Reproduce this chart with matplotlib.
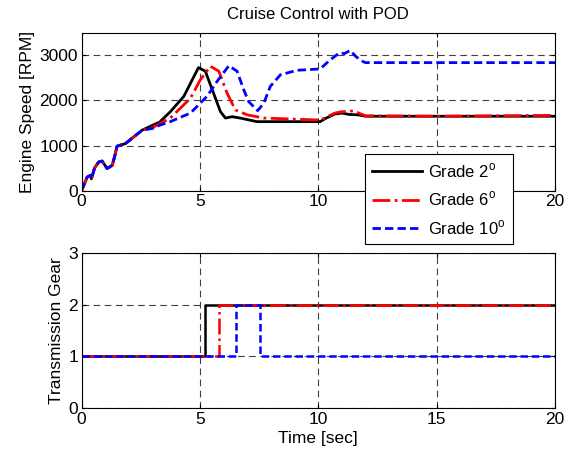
import numpy as np
import matplotlib
matplotlib.use('Agg')
import matplotlib.pyplot as plt

plt.rcParams['font.family'] = ['Liberation Sans', 'DejaVu Sans']
plt.rcParams['mathtext.fontset'] = 'custom'
plt.rcParams['mathtext.rm'] = 'Liberation Sans'

# engine speed traces [RPM] vs time [sec]
t_start = [0, 0.24, 0.38, 0.42, 0.55, 0.73, 0.87, 1.08, 1.3, 1.41, 1.5, 1.86, 2.56]
v_start = [0, 300, 335, 260, 500, 635, 655, 490, 560, 780, 985, 1045, 1340]

t_g2 = [3.0, 3.3, 3.75, 4.32, 4.94, 5.23, 5.57, 5.87, 6.08, 6.36, 6.7, 7.41,
        10.08, 10.3, 10.7, 11.0, 11.3, 11.7, 12.0, 20.0]
v_g2 = [1450, 1520, 1750, 2090, 2730, 2650, 2170, 1750, 1610, 1640, 1610, 1530,
        1530, 1600, 1700, 1720, 1690, 1680, 1650, 1650]

t_g6 = [3.0, 3.3, 3.75, 4.6, 5.02, 5.44, 5.8, 6.15, 6.5, 7.0, 7.7,
        10.08, 10.3, 10.7, 11.0, 11.5, 11.8, 12.0, 15.0, 20.0]
v_g6 = [1400, 1480, 1610, 2050, 2460, 2760, 2650, 2160, 1790, 1680, 1610,
        1565, 1620, 1720, 1750, 1770, 1700, 1660, 1650, 1670]

t_g10 = [3.0, 3.3, 3.75, 4.6, 5.3, 5.72, 6.22, 6.57, 6.85, 7.06, 7.44, 7.7, 7.97,
         8.4, 9.1, 10.08, 10.5, 10.9, 11.1, 11.35, 11.6, 11.9, 12.0, 20.0]
v_g10 = [1380, 1450, 1530, 1720, 2090, 2420, 2770, 2650, 2240, 1975, 1775, 1940, 2310,
         2570, 2670, 2700, 2900, 3060, 3040, 3110, 2970, 2860, 2840, 2840]

# gear shift points
gear_t2 = [0, 5.23, 20]
gear_2 = [1, 2, 2]
gear_t6 = [0, 5.82, 20]
gear_6 = [1, 2, 2]
gear_t10 = [0, 6.54, 7.52, 20]
gear_10 = [1, 2, 1, 1]

labels = ['Grade 2$^\\mathrm{o}$', 'Grade 6$^\\mathrm{o}$', 'Grade 10$^\\mathrm{o}$']
xticks = [0, 5, 10, 15, 20]

fig = plt.figure(figsize=(5.74, 4.57), dpi=100)
ax1 = fig.add_axes([0.142, 0.583, 0.825, 0.345])
ax2 = fig.add_axes([0.142, 0.107, 0.825, 0.339])

ax1.plot(t_start + t_g2, v_start + v_g2, color='k', lw=2, ls='-', label=labels[0])
ax1.plot(t_start + t_g6, v_start + v_g6, color='r', lw=2, ls='-.', label=labels[1])
ax1.plot(t_start + t_g10, v_start + v_g10, color='b', lw=2, ls='--', dashes=(3, 1.5), label=labels[2])

ax2.plot(gear_t2, gear_2, color='k', lw=1.8, drawstyle='steps-post')
ax2.plot(gear_t6, gear_6, color='r', lw=1.8, ls='-.', drawstyle='steps-post')
ax2.plot(gear_t10, gear_10, color='b', lw=1.8, ls='--', dashes=(3, 1.5), drawstyle='steps-post')

for ax in (ax1, ax2):
    ax.set_xlim(0, 20)
    ax.set_xticks(xticks)
    ax.grid(True, color='0.25', ls='--', lw=0.8, dashes=(6, 4))
    ax.tick_params(direction='in', top=True, right=True, labelsize=12.5, length=3, pad=2.5)
    for s in ax.spines.values():
        s.set_linewidth(0.8)

# the "15" label of the top plot sits under the legend in the original
ax1.set_xticklabels(['0', '5', '10', '', '20'])

ax1.set_ylim(0, 3500)
ax1.set_yticks([0, 1000, 2000, 3000])
ax1.set_ylabel('Engine Speed [RPM]', fontsize=12.5, labelpad=3)
ax1.set_title('Cruise Control with POD', fontsize=12, pad=10)

ax2.set_ylim(0, 3)
ax2.set_yticks([0, 1, 2, 3])
ax2.set_ylabel('Transmission Gear', fontsize=12.5, labelpad=3)
ax2.set_xlabel('Time [sec]', fontsize=12.5, labelpad=3)

leg = ax1.legend(loc='upper left', bbox_to_anchor=(0.599, 0.229), fontsize=12,
                 fancybox=False, edgecolor='k', framealpha=1, borderaxespad=0,
                 handlelength=3.0, handletextpad=0.4, labelspacing=0.6, borderpad=0.4)
leg.get_frame().set_linewidth(0.8)
leg.set_zorder(10)

fig.savefig('out.png')
